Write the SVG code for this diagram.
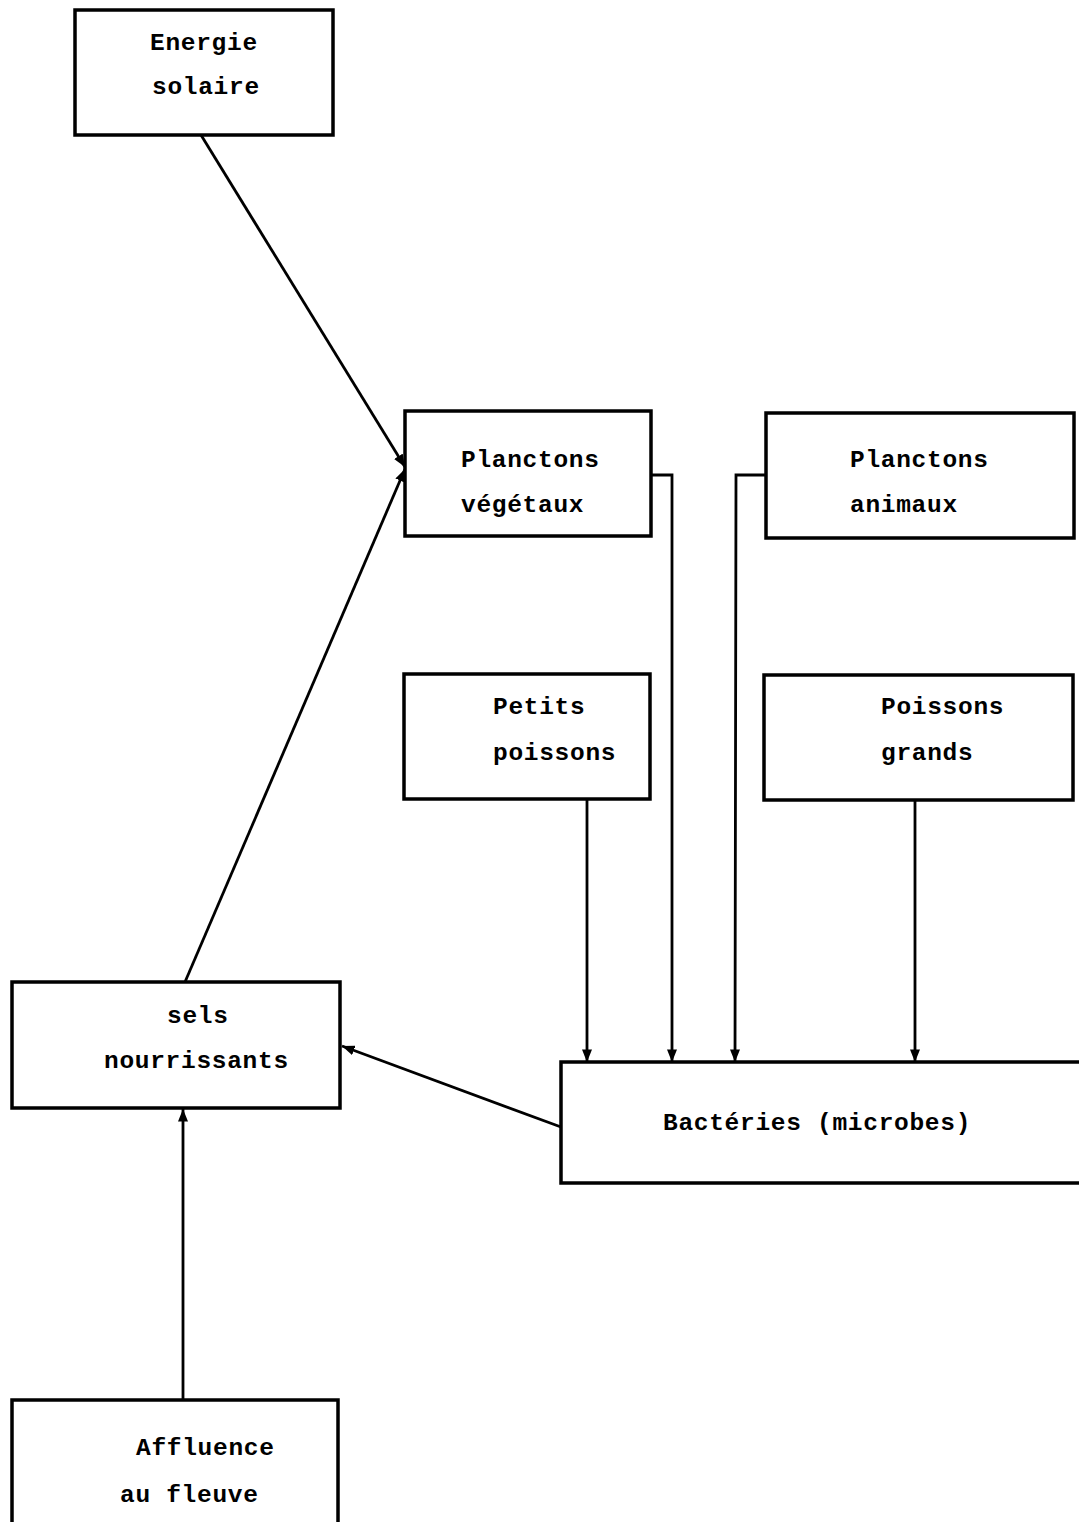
<svg xmlns="http://www.w3.org/2000/svg" width="1079" height="1522" viewBox="0 0 1079 1522">
<style>
.box{fill:#fff;stroke:#000;stroke-width:3.5}
.t{font-family:"Liberation Mono","DejaVu Sans Mono",monospace;font-weight:bold;font-size:24.5px;letter-spacing:0.7px;fill:#000}
.c{fill:none;stroke:#000;stroke-width:2.8}
</style>
<defs>
<marker id="a" viewBox="0 0 10 8" refX="10" refY="4" markerWidth="4.5" markerHeight="3.6" orient="auto" markerUnits="strokeWidth">
<path d="M0,0 L10,4 L0,8 Z" fill="#000"/>
</marker>
</defs>
<rect width="1079" height="1522" fill="#fff"/>
<g id="connectors">
<path class="c" d="M201,135 L405,467" marker-end="url(#a)"/>
<path class="c" d="M185,982 L405,469" marker-end="url(#a)"/>
<path class="c" d="M651,475 L672,475 L672,1062" marker-end="url(#a)"/>
<path class="c" d="M766,475 L736,475 L735,1062" marker-end="url(#a)"/>
<path class="c" d="M587,799 L587,1062" marker-end="url(#a)"/>
<path class="c" d="M915,800 L915,1062" marker-end="url(#a)"/>
<path class="c" d="M561,1127 L342,1046" marker-end="url(#a)"/>
<path class="c" d="M183,1400 L183,1109" marker-end="url(#a)"/>
</g>
<g id="energie">
<rect class="box" x="75" y="10" width="258" height="125"/>
<text class="t" x="150" y="50">Energie</text>
<text class="t" x="152" y="94">solaire</text>
</g>
<g id="planctons-vegetaux">
<rect class="box" x="405" y="411" width="246" height="125"/>
<text class="t" x="461" y="467">Planctons</text>
<text class="t" x="461" y="512">végétaux</text>
</g>
<g id="planctons-animaux">
<rect class="box" x="766" y="413" width="308" height="125"/>
<text class="t" x="850" y="467">Planctons</text>
<text class="t" x="850" y="512">animaux</text>
</g>
<g id="petits-poissons">
<rect class="box" x="404" y="674" width="246" height="125"/>
<text class="t" x="493" y="714">Petits</text>
<text class="t" x="493" y="760">poissons</text>
</g>
<g id="poissons-grands">
<rect class="box" x="764" y="675" width="309" height="125"/>
<text class="t" x="881" y="714">Poissons</text>
<text class="t" x="881" y="760">grands</text>
</g>
<g id="sels">
<rect class="box" x="12" y="982" width="328" height="126"/>
<text class="t" x="167" y="1023">sels</text>
<text class="t" x="104" y="1068">nourrissants</text>
</g>
<g id="bacteries">
<rect class="box" x="561" y="1062" width="530" height="121"/>
<text class="t" x="663" y="1130">Bactéries (microbes)</text>
</g>
<g id="affluence">
<rect class="box" x="12" y="1400" width="326" height="140"/>
<text class="t" x="136" y="1455">Affluence</text>
<text class="t" x="120" y="1502">au fleuve</text>
</g>
</svg>
